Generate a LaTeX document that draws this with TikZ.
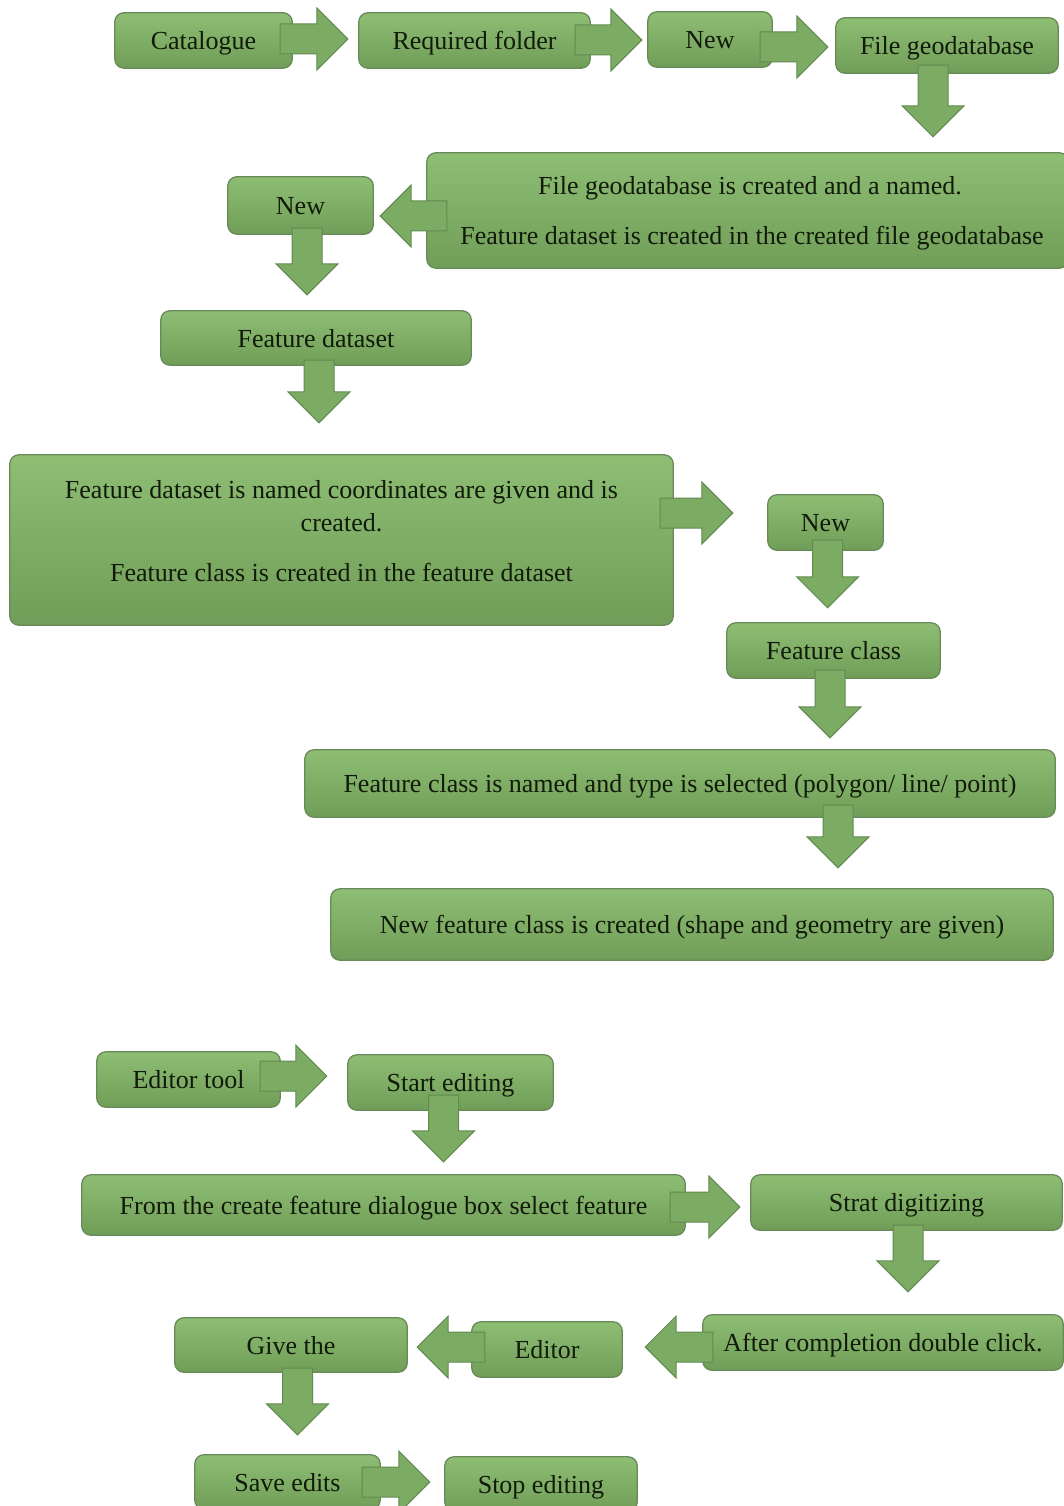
\documentclass[tikz,border=0pt]{standalone}
\usepackage{fontspec}
\setmainfont{Liberation Serif}
\usetikzlibrary{calc}

\pgfdeclarelayer{boxlayer}
\pgfdeclarelayer{arrowlayer}
\pgfsetlayers{boxlayer,arrowlayer,main}

\definecolor{boxtop}{RGB}{142,189,116}
\definecolor{boxbot}{RGB}{112,158,88}
\definecolor{boxline}{RGB}{104,138,88}
\definecolor{arrowfill}{RGB}{124,171,99}
\definecolor{arrowline}{RGB}{98,138,80}
\definecolor{ink}{RGB}{18,26,10}

% block arrow geometry
\newcommand\abody{15pt}
\newcommand\ahead{31pt}
\newcommand\alen{31pt}

\tikzset{
  x=1pt, y=-1pt,
  box/.style={inner sep=0pt, text=ink, font=\fontsize{26}{33}\selectfont,
    text height=18pt, text depth=0pt},
  textline/.style={inner sep=0pt, text=ink, font=\fontsize{26}{33}\selectfont,
    text height=18pt, text depth=0pt},
  boxshape/.style={draw=boxline, line width=1.3pt, rounded corners=9pt,
    top color=boxtop, bottom color=boxbot},
  arrowshape/.style={draw=arrowline, line width=1pt, fill=arrowfill, line join=miter},
  rarrow/.style={arrowshape, to path={let \p1=(\tikztostart), \p2=(\tikztotarget) in
    (\x1,\y1+\abody) -- (\x2-\alen,\y1+\abody) -- (\x2-\alen,\y1+\ahead) -- (\x2,\y1)
    -- (\x2-\alen,\y1-\ahead) -- (\x2-\alen,\y1-\abody) -- (\x1,\y1-\abody) -- cycle}},
  larrow/.style={arrowshape, to path={let \p1=(\tikztostart), \p2=(\tikztotarget) in
    (\x1,\y1+\abody) -- (\x2+\alen,\y1+\abody) -- (\x2+\alen,\y1+\ahead) -- (\x2,\y1)
    -- (\x2+\alen,\y1-\ahead) -- (\x2+\alen,\y1-\abody) -- (\x1,\y1-\abody) -- cycle}},
  darrow/.style={arrowshape, to path={let \p1=(\tikztostart), \p2=(\tikztotarget) in
    (\x1-\abody,\y1) -- (\x1-\abody,\y2+\alen) -- (\x1-\ahead,\y2+\alen) -- (\x1,\y2)
    -- (\x1+\ahead,\y2+\alen) -- (\x1+\abody,\y2+\alen) -- (\x1+\abody,\y1) -- cycle}},
}

\begin{document}
\begin{tikzpicture}
\useasboundingbox (0,0) rectangle (1064,1506);

% ---- boxes (text on top layer) ----
\node[box, minimum width=177pt, minimum height=55pt] (cat)   at (203.5,40.5) {Catalogue};
\node[box, minimum width=231pt, minimum height=55pt] (req)   at (474.5,40.5) {Required folder};
\node[box, minimum width=124pt, minimum height=55pt] (new1)  at (710,39.5)   {New};
\node[box, minimum width=222pt, minimum height=55pt] (fgdb)  at (947,45.5)   {File geodatabase};
\node[box, minimum width=641pt, minimum height=115pt] (info1) at (747.5,210.5) {};
\node[textline] (info1a) at ($(info1.center)+(2.5,-24.5)$) {File geodatabase is created and a named.};
\node[textline] (info1b) at ($(info1.center)+(4.5,24.5)$) {Feature dataset is created in the created file geodatabase};
\node[box, minimum width=145pt, minimum height=57pt] (new2)  at (300.5,205.5) {New};
\node[box, minimum width=310pt, minimum height=54pt] (fds)   at (316,338)    {Feature dataset};
\node[box, minimum width=663pt, minimum height=170pt] (info2) at (341.5,540) {};
\node[textline] (info2a) at ($(info2.center)+(0,-51)$) {Feature dataset is named coordinates are given and is};
\node[textline] (info2b) at ($(info2.center)+(0,-18)$) {created.};
\node[textline] (info2c) at ($(info2.center)+(0,32)$) {Feature class is created in the feature dataset};
\node[box, minimum width=115pt, minimum height=55pt] (new3)  at (825.5,522.5) {New};
\node[box, minimum width=213pt, minimum height=55pt] (fcls)  at (833.5,650.5) {Feature class};
\node[box, minimum width=750pt, minimum height=67pt] (fname) at (680,783.5)  {Feature class is named and type is selected (polygon/ line/ point)};
\node[box, minimum width=722pt, minimum height=71pt] (fnew)  at (692,924.5)  {New feature class is created (shape and geometry are given)};
\node[box, minimum width=183pt, minimum height=55pt] (edt)   at (188.5,1079.5) {Editor tool};
\node[box, minimum width=205pt, minimum height=55pt] (sted)  at (450.5,1082.5) {Start editing};
\node[box, minimum width=603pt, minimum height=60pt] (fromd) at (383.5,1205) {From the create feature dialogue box select feature};
\node[box, minimum width=311pt, minimum height=55pt] (strd)  at (906.5,1202.5) {Strat digitizing};
\node[box, minimum width=360pt, minimum height=55pt] (aftc)  at (883,1342.5) {After completion double click.};
\node[box, minimum width=150pt, minimum height=55pt] (edit2) at (547,1349.5) {Editor};
\node[box, minimum width=232pt, minimum height=54pt] (give)  at (291,1345)   {Give the};
\node[box, minimum width=185pt, minimum height=54pt] (save)  at (287.5,1482) {Save edits};
\node[box, minimum width=192pt, minimum height=54pt] (stop)  at (541,1484)   {Stop editing};

% ---- box shapes ----
\begin{pgfonlayer}{boxlayer}
\foreach \n in {cat,req,new1,fgdb,info1,new2,fds,info2,new3,fcls,fname,fnew,
                edt,sted,fromd,strd,aftc,edit2,give,save,stop}
  \path[boxshape] (\n.north west) rectangle (\n.south east);
\end{pgfonlayer}

% ---- block arrows ----
\begin{pgfonlayer}{arrowlayer}
\path[rarrow] ([shift={(-12,-1.5)}]cat.east)  to ([xshift=-11pt]req.west);
\path[rarrow] ([shift={(-15,-0.5)}]req.east)  to ([xshift=-6pt]new1.west);
\path[rarrow] ([shift={(-12,7.5)}]new1.east)  to ([xshift=-8pt]fgdb.west);
\path[darrow] ([shift={(-14,-8)}]fgdb.south)  to ([yshift=16pt]info1.north);
\path[larrow] ([shift={(20,5.5)}]info1.west)  to ([xshift=7pt]new2.east);
\path[darrow] ([shift={(6.5,-6)}]new2.south)  to ([yshift=16pt]fds.north);
\path[darrow] ([shift={(3,-5)}]fds.south)     to ([yshift=32pt]info2.north);
\path[rarrow] ([shift={(-13,-27)}]info2.east) to ([xshift=-35pt]new3.west);
\path[darrow] ([shift={(2,-10)}]new3.south)   to ([yshift=15pt]fcls.north);
\path[darrow] ([shift={(-3.5,-8)}]fcls.south) to ([yshift=12pt]fname.north);
\path[darrow] ([shift={(158,-12)}]fname.south) to ([yshift=21pt]fnew.north);
\path[rarrow] ([shift={(-20,-3.5)}]edt.east)  to ([xshift=-21pt]sted.west);
\path[darrow] ([shift={(-7,-15)}]sted.south)  to ([yshift=13pt]fromd.north);
\path[rarrow] ([shift={(-15,2)}]fromd.east)   to ([xshift=-11pt]strd.west);
\path[darrow] ([shift={(1.5,-5)}]strd.south)  to ([yshift=23pt]aftc.north);
\path[larrow] ([shift={(10,4.5)}]aftc.west)   to ([xshift=23pt]edit2.east);
\path[larrow] ([shift={(13,-2.5)}]edit2.west) to ([xshift=10pt]give.east);
\path[darrow] ([shift={(6.5,-4)}]give.south)  to ([yshift=20pt]save.north);
\path[rarrow] ([shift={(-18,0)}]save.east)    to ([xshift=-15pt]stop.west);
\end{pgfonlayer}
\end{tikzpicture}
\end{document}
